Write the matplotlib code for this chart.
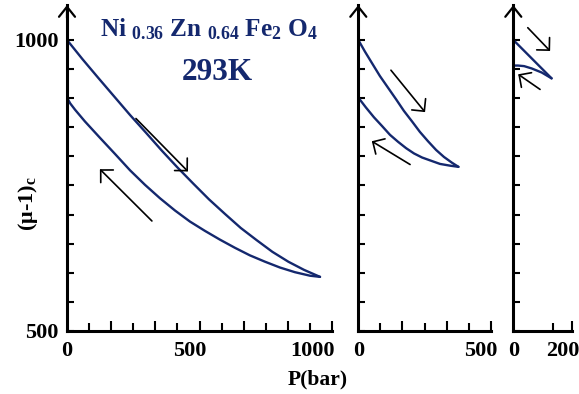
import matplotlib
matplotlib.use("Agg")
import matplotlib.pyplot as plt

plt.rcParams["font.family"] = ["Liberation Serif", "DejaVu Serif"]
plt.rcParams["font.weight"] = "bold"
plt.rcParams["mathtext.fontset"] = "custom"
plt.rcParams["mathtext.rm"] = "Liberation Serif:bold"
plt.rcParams["mathtext.it"] = "Liberation Serif:bold"
plt.rcParams["mathtext.bf"] = "Liberation Serif:bold"

NAVY = "#14286e"

# ---- data: (mu-1)_c versus pressure, three pressure cycles ----
# cycle to ~1000 bar
c1_load_p = [0, 63, 127, 192, 257, 321, 386, 450, 515, 579, 644, 708,
             773, 837, 902, 966, 1031]
c1_load_mu = [1000, 967, 935, 903, 871, 841, 810, 781, 753, 726, 701, 677,
              656, 636, 619, 605, 593]
c1_unload_p = [1031, 990, 929, 868, 807, 745, 684, 623, 562, 501, 440, 379,
               318, 257, 196, 134, 73, 33, 13, 0]
c1_unload_mu = [593, 595, 601, 609, 619, 630, 643, 657, 672, 688, 707, 728,
                751, 776, 804, 832, 860, 880, 891, 901]

# cycle to ~400 bar
c2_load_p = [0, 27, 56, 88, 121, 154, 186, 219, 251, 284, 317, 349, 382, 408]
c2_load_mu = [1000, 980, 960, 938, 918, 898, 878, 860, 842, 826, 811, 799,
              789, 782]
c2_unload_p = [408, 374, 333, 293, 260, 227, 195, 162, 129, 97, 64, 31, 0]
c2_unload_mu = [782, 784, 787, 793, 798, 805, 814, 825, 837, 852, 867, 884,
                901]

# cycle to ~160 bar
c3_load_p = [0, 156]
c3_load_mu = [1000, 934]
c3_unload_p = [156, 116, 75, 44, 19, 0]
c3_unload_mu = [934, 944, 951, 955, 956, 956]

y_ticks = [500, 550, 600, 650, 700, 750, 800, 850, 900, 950, 1000]
y_ticklabels = ["500", "", "", "", "", "", "", "", "", "", "1000"]

panels = [
    dict(xmax=1080, tall=[180, 360, 540, 720, 900, 1080],
         short=[90, 270, 450, 630, 810, 990], labels=[0, 500, 1000],
         load=(c1_load_p, c1_load_mu), unload=(c1_unload_p, c1_unload_mu),
         arrows=[((281, 865), (493, 774)), ((346, 689), (134, 778))],
         left=67),
    dict(xmax=540, tall=[180, 360, 540], short=[90, 270, 450],
         labels=[0, 500],
         load=(c2_load_p, c2_load_mu), unload=(c2_unload_p, c2_unload_mu),
         arrows=[((133, 948), (272, 876)), ((211, 786), (55, 826))],
         left=358.3),
    dict(xmax=240, tall=[240], short=[160], labels=[0, 200],
         load=(c3_load_p, c3_load_mu), unload=(c3_unload_p, c3_unload_mu),
         arrows=[((59, 1021), (150, 981)), ((109, 915), (20, 941))],
         left=513.3),
]

W, H = 579, 394
fig = plt.figure(figsize=(W / 100, H / 100), dpi=100)

PX_PER_BAR = 0.2454
Y_BOTTOM, Y_TOP = 331, 5
YMIN, YMAX = 500, 1060

for i, pn in enumerate(panels):
    width_px = pn["xmax"] * PX_PER_BAR
    ax = fig.add_axes([pn["left"] / W, (H - Y_BOTTOM) / H,
                       width_px / W, (Y_BOTTOM - Y_TOP) / H])
    ax.set_xlim(0, pn["xmax"])
    ax.set_ylim(YMIN, YMAX)
    ax.patch.set_visible(False)
    for s in ("top", "right"):
        ax.spines[s].set_visible(False)
    for s in ("left", "bottom"):
        ax.spines[s].set_linewidth(2.2)
        ax.spines[s].set_capstyle("projecting")

    # loading and unloading branches
    ax.plot(*pn["load"], color=NAVY, lw=1.7, solid_capstyle="round",
            solid_joinstyle="round")
    ax.plot(*pn["unload"], color=NAVY, lw=1.7, solid_capstyle="round",
            solid_joinstyle="round")

    # y ticks
    ax.set_yticks(y_ticks)
    if i == 0:
        ax.set_yticklabels(y_ticklabels)
    else:
        ax.set_yticklabels([])
    ax.tick_params(axis="y", direction="in", length=5, width=1.5,
                   labelsize=16, pad=6)

    # x ticks: tall (major) and short (minor), labels drawn separately
    ax.set_xticks(pn["tall"])
    ax.set_xticks(pn["short"], minor=True)
    ax.tick_params(axis="x", which="major", direction="in", length=7.5,
                   width=1.5, labelbottom=False)
    ax.tick_params(axis="x", which="minor", direction="in", length=5.5,
                   width=1.5, labelbottom=False)
    for v in pn["labels"]:
        ax.annotate(f"{v}", xy=(v, 0), xycoords=ax.get_xaxis_transform(),
                    xytext=(0, -7), textcoords="offset points",
                    ha="center", va="top", fontsize=16, fontweight="bold")

    # arrow head on the y axis
    ax.annotate("", xy=(0, 1), xycoords="axes fraction",
                xytext=(0, 0.96), textcoords="axes fraction",
                arrowprops=dict(arrowstyle="->,head_length=0.45,head_width=0.36",
                                lw=1.6, color="black", mutation_scale=16,
                                shrinkA=0, shrinkB=0))

    # direction arrows
    for tail, head in pn["arrows"]:
        ax.annotate("", xy=head, xytext=tail,
                    arrowprops=dict(arrowstyle="->,head_length=0.4,head_width=0.4",
                                    lw=1.2, color="black", mutation_scale=16,
                                    shrinkA=0, shrinkB=0))

fig.text(209 / W, 1 - 36 / H,
         r"Ni $_{0.36}$ Zn $_{0.64}$ Fe$_{2}$ O$_{4}$",
         ha="center", va="baseline", fontsize=18.2, color=NAVY,
         fontweight="bold")
fig.text(217.5 / W, 1 - 80 / H, "293K", ha="center", va="baseline",
         fontsize=22.5, color=NAVY, fontweight="bold")

fig.text(28 / W, 1 - 204 / H, r"(μ-1)$_{\mathrm{c}}$", rotation=90,
         ha="center", va="center", fontsize=16, fontweight="bold")
fig.text(318 / W, 1 - 379 / H, "P(bar)", ha="center", va="center",
         fontsize=15.5, fontweight="bold")

fig.savefig("out.png", dpi=100)
